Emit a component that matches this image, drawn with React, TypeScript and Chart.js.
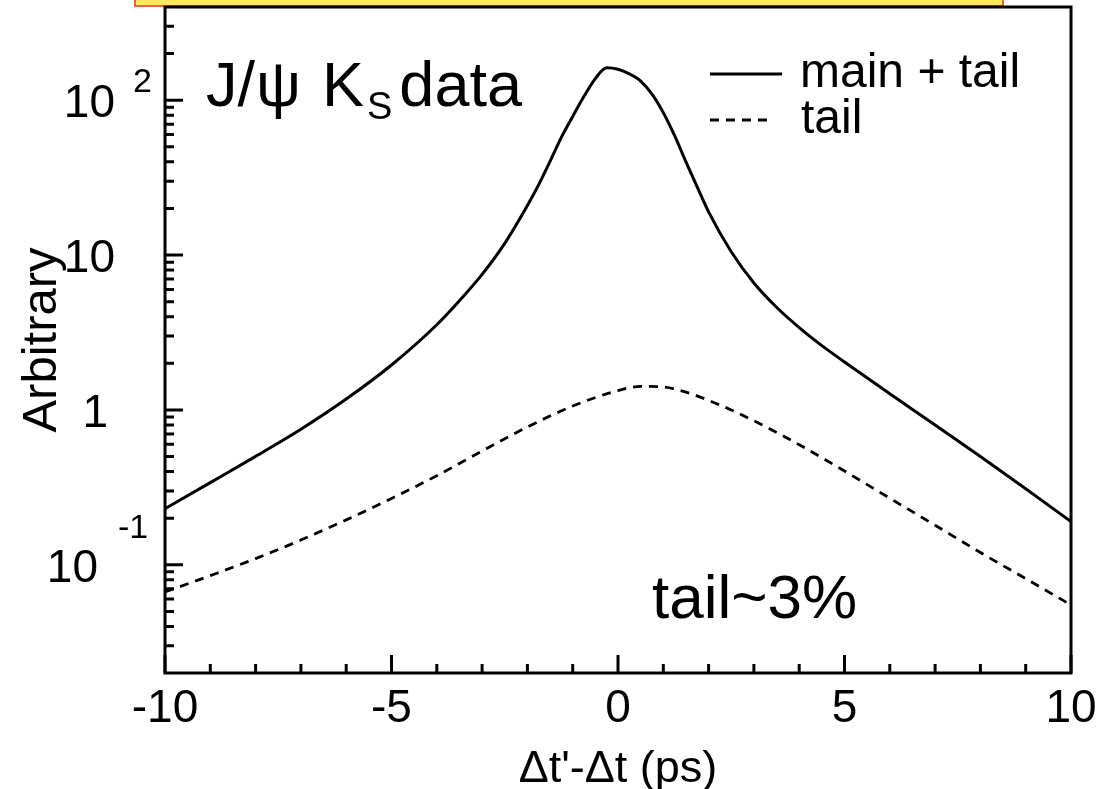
import { useEffect, useRef } from 'react';
import { Chart, registerables } from 'chart.js';

Chart.register(...registerables);

// ---- data ----
const mainX = [-10, -9, -8, -7, -6, -5, -4, -3.5, -3, -2.5, -2, -1.75, -1.5, -1.25, -1, -0.75, -0.5, -0.25, 0, 0.25, 0.5, 0.75, 1, 1.25, 1.5, 1.75, 2, 2.5, 3, 3.5, 4, 4.5, 5, 6, 7, 8, 9, 10];
const mainY = [0.23, 0.339, 0.501, 0.75, 1.175, 1.95, 3.55, 5.07, 7.5, 11.9, 20.9, 28.5, 40.3, 57.5, 78.5, 106, 138, 162, 158.5, 148, 133, 109.6, 83.2, 59, 40, 27.5, 19, 10.5, 6.6, 4.6, 3.4, 2.6, 2.04, 1.27, 0.80, 0.50, 0.31, 0.19];

const tailX = [-10, -9, -8, -7, -6, -5, -4, -3, -2, -1, 0, 0.5, 1, 1.5, 2, 2.5, 3, 3.5, 4, 5, 6, 7, 8, 9, 10];
const tailY = [0.0667, 0.0851, 0.1096, 0.1445, 0.195, 0.268, 0.376, 0.543, 0.776, 1.059, 1.334, 1.419, 1.406, 1.303, 1.153, 1.0, 0.851, 0.716, 0.596, 0.403, 0.269, 0.18, 0.12, 0.0813, 0.055];

const xMajorTicks = [-10, -5, 0, 5, 10];
const xTickLabels = ['-10', '-5', '0', '5', '10'];
const xMinorTicks = [-9, -8, -7, -6, -4, -3, -2, -1, 1, 2, 3, 4, 6, 7, 8, 9];
const yMajorTicks = [0.1, 1, 10, 100];
const yMinorMantissas = [2, 3, 4, 5, 6, 7, 8, 9];
const yDecades = [0.01, 0.1, 1, 10, 100];

const legendLabels = ['main + tail', 'tail'];
const xTitle = "\u0394t'-\u0394t (ps)";
const yTitle = 'Arbitrary';

const FONT = '"Liberation Sans", Arial, Helvetica, sans-serif';

const overlay = {
  id: 'overlay',
  afterDraw(chart: any) {
    const ctx = chart.ctx as CanvasRenderingContext2D;
    const xs = chart.scales.x;
    const ys = chart.scales.y;
    const { left, right, top, bottom } = chart.chartArea;
    ctx.save();

    // orange title box (cut at top)
    ctx.fillStyle = '#FFE95E';
    ctx.fillRect(135, -4, 868, 10);
    ctx.strokeStyle = '#F0603A';
    ctx.lineWidth = 2;
    ctx.strokeRect(135, -4, 868, 10);

    // frame
    ctx.strokeStyle = '#000';
    ctx.lineWidth = 3;
    ctx.strokeRect(left, top, right - left, bottom - top);

    // x ticks (inward)
    ctx.lineWidth = 3;
    ctx.beginPath();
    xMajorTicks.forEach((v) => {
      const px = xs.getPixelForValue(v);
      ctx.moveTo(px, bottom);
      ctx.lineTo(px, bottom - 18);
    });
    xMinorTicks.forEach((v) => {
      const px = xs.getPixelForValue(v);
      ctx.moveTo(px, bottom);
      ctx.lineTo(px, bottom - 9);
    });
    // y ticks
    yMajorTicks.forEach((v) => {
      const py = ys.getPixelForValue(v);
      ctx.moveTo(left, py);
      ctx.lineTo(left + 18, py);
    });
    yDecades.forEach((d) => {
      yMinorMantissas.forEach((m) => {
        const v = d * m;
        if (v <= ys.min || v >= ys.max) return;
        const py = ys.getPixelForValue(v);
        ctx.moveTo(left, py);
        ctx.lineTo(left + 9, py);
      });
    });
    ctx.stroke();

    ctx.fillStyle = '#000';
    // x tick labels
    ctx.font = `46px ${FONT}`;
    ctx.textAlign = 'center';
    ctx.textBaseline = 'alphabetic';
    xMajorTicks.forEach((v, i) => {
      ctx.fillText(xTickLabels[i], xs.getPixelForValue(v), 722);
    });

    // y tick labels (ROOT style with exponents)
    const yLabels = [
      { v: 100, base: '10', exp: '2', bx: 115, ex: 133, ey: -8 },
      { v: 10, base: '10', exp: '', bx: 115, ex: 0, ey: 0 },
      { v: 1, base: '1', exp: '', bx: 108, ex: 0, ey: 0 },
      { v: 0.1, base: '10', exp: '-1', bx: 98, ex: 118, ey: -27 },
    ];
    yLabels.forEach((l) => {
      const py = ys.getPixelForValue(l.v);
      ctx.font = `46px ${FONT}`;
      ctx.textAlign = 'right';
      ctx.fillText(l.base, l.bx, py + 17);
      if (l.exp) {
        ctx.font = `34px ${FONT}`;
        ctx.textAlign = 'left';
        ctx.fillText(l.exp, l.ex, py + l.ey);
      }
    });

    // axis titles
    ctx.font = `45px ${FONT}`;
    ctx.textAlign = 'center';
    ctx.fillText(xTitle, 618, 782);
    ctx.save();
    ctx.translate(56, 340);
    ctx.rotate(-Math.PI / 2);
    ctx.font = `49px ${FONT}`;
    ctx.fillText(yTitle, 0, 0);
    ctx.restore();

    // legend
    ctx.lineWidth = 3;
    ctx.beginPath();
    ctx.moveTo(710, 74);
    ctx.lineTo(782, 74);
    ctx.stroke();
    ctx.setLineDash([9, 7]);
    ctx.beginPath();
    ctx.moveTo(710, 120);
    ctx.lineTo(772, 120);
    ctx.stroke();
    ctx.setLineDash([]);
    ctx.font = `48px ${FONT}`;
    ctx.textAlign = 'left';
    ctx.fillText(legendLabels[0], 800, 87);
    ctx.fillText(legendLabels[1], 801, 133);

    // J/psi K_S data
    ctx.font = `63px ${FONT}`;
    let cx = 206;
    ctx.fillText('J/', cx, 106);
    cx += ctx.measureText('J/').width + 1;
    ctx.fillText('\u03C8', cx, 106);
    cx = 322;
    ctx.fillText('K', cx, 106);
    cx += ctx.measureText('K').width + 3;
    ctx.font = `38px ${FONT}`;
    ctx.fillText('S', cx, 119);
    cx += ctx.measureText('S').width + 7;
    ctx.font = `63px ${FONT}`;
    ctx.fillText('data', cx, 106);

    // tail~3%
    ctx.font = `62px ${FONT}`;
    ctx.fillText('tail~3%', 652, 618);

    ctx.restore();
  },
};

export default function App() {
  const ref = useRef<HTMLCanvasElement | null>(null);
  useEffect(() => {
    document.body.style.margin = '0';
    const canvas = ref.current!;
    const chart = new Chart(canvas, {
      type: 'line',
      data: {
        datasets: [
          {
            label: legendLabels[0],
            data: mainX.map((x, i) => ({ x, y: mainY[i] })),
            borderColor: '#000',
            borderWidth: 3,
            pointRadius: 0,
            cubicInterpolationMode: 'monotone',
            fill: false,
          },
          {
            label: legendLabels[1],
            data: tailX.map((x, i) => ({ x, y: tailY[i] })),
            borderColor: '#000',
            borderWidth: 2.8,
            borderDash: [9, 7],
            pointRadius: 0,
            cubicInterpolationMode: 'monotone',
            fill: false,
          },
        ],
      },
      options: {
        animation: false,
        responsive: false,
        maintainAspectRatio: false,
        layout: { padding: { left: 165, right: 46, top: 7, bottom: 116 } },
        plugins: { legend: { display: false }, tooltip: { enabled: false } },
        scales: {
          x: { type: 'linear', min: -10, max: 10, display: false },
          y: { type: 'logarithmic', min: 0.02, max: 400, display: false },
        },
      },
      plugins: [overlay],
    } as any);
    return () => chart.destroy();
  }, []);
  return (
    <div style={{ position: 'fixed', left: 0, top: 0, width: 1117, height: 789, background: '#fff' }}>
      <canvas ref={ref} width={1117} height={789} style={{ width: 1117, height: 789 }} />
    </div>
  );
}
